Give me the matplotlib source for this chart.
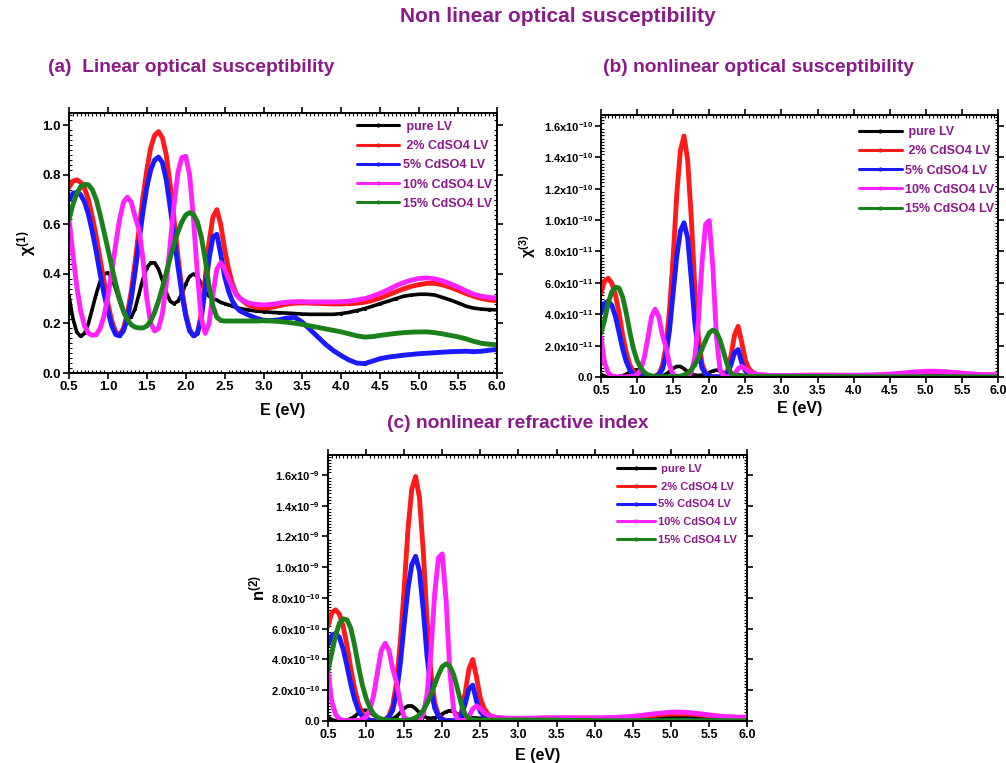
import numpy as np
import matplotlib
matplotlib.use('Agg')
import matplotlib.pyplot as plt
from matplotlib.ticker import MultipleLocator, AutoMinorLocator, FuncFormatter

plt.rcParams['font.family'] = ['Liberation Sans', 'DejaVu Sans']
plt.rcParams['mathtext.fontset'] = 'custom'
plt.rcParams['mathtext.bf'] = 'Liberation Sans:bold'
plt.rcParams['mathtext.rm'] = 'Liberation Sans:bold'
plt.rcParams['mathtext.it'] = 'Liberation Sans:bold:italic'
plt.rcParams['mathtext.default'] = 'bf'

# ---------------- data ----------------
E = [0.50, 0.55, 0.60, 0.65, 0.70, 0.75, 0.80, 0.85, 0.90, 0.95,
     1.00, 1.05, 1.10, 1.15, 1.20, 1.25, 1.30, 1.35, 1.40, 1.45,
     1.50, 1.55, 1.60, 1.65, 1.70, 1.75, 1.80, 1.85, 1.90, 1.95,
     2.00, 2.05, 2.10, 2.15, 2.20, 2.25, 2.30, 2.35, 2.40, 2.45,
     2.50, 2.55, 2.60, 2.65, 2.70,
     2.8, 2.9, 3.0, 3.1, 3.2, 3.3, 3.4, 3.5, 3.6, 3.7, 3.8, 3.9,
     4.0, 4.1, 4.2, 4.3, 4.4, 4.5, 4.6, 4.7, 4.8, 4.9, 5.0, 5.1,
     5.2, 5.3, 5.4, 5.5, 5.6, 5.7, 5.8, 5.9, 6.0]

labels = [' pure LV', ' 2% CdSO4 LV', '5% CdSO4 LV', '10% CdSO4 LV', '15% CdSO4 LV']
colors = ['#000000', '#ff1a1a', '#1a1aff', '#ff22ff', '#1a801a']

# (a) linear susceptibility chi(1)
chi1_pure = [0.31, 0.22, 0.165, 0.148, 0.16, 0.20, 0.26, 0.32, 0.37, 0.40,
             0.405, 0.385, 0.34, 0.29, 0.245, 0.22, 0.225, 0.26, 0.32, 0.38,
             0.425, 0.445, 0.445, 0.42, 0.375, 0.325, 0.29, 0.28, 0.29, 0.32,
             0.36, 0.39, 0.40, 0.39, 0.36, 0.33, 0.31, 0.30, 0.295, 0.285,
             0.28, 0.275, 0.27, 0.265, 0.26,
             0.255, 0.25, 0.248, 0.245, 0.243, 0.242, 0.24, 0.238, 0.237, 0.237, 0.237, 0.237,
             0.24, 0.245, 0.252, 0.26, 0.27, 0.28, 0.29, 0.30, 0.31, 0.315, 0.318, 0.318,
             0.315, 0.305, 0.295, 0.283, 0.27, 0.262, 0.258, 0.256, 0.255]
chi1_2 = [0.75, 0.775, 0.78, 0.77, 0.745, 0.70, 0.63, 0.55, 0.46, 0.37,
          0.28, 0.21, 0.165, 0.155, 0.18, 0.24, 0.33, 0.45, 0.58, 0.71,
          0.82, 0.91, 0.96, 0.975, 0.95, 0.88, 0.76, 0.62, 0.47, 0.34,
          0.24, 0.175, 0.15, 0.16, 0.24, 0.38, 0.53, 0.63, 0.66, 0.60,
          0.50, 0.42, 0.36, 0.32, 0.30,
          0.275, 0.265, 0.262, 0.265, 0.272, 0.278, 0.282, 0.283, 0.282, 0.281, 0.28, 0.279,
          0.279, 0.28, 0.282, 0.286, 0.293, 0.303, 0.315, 0.328, 0.34, 0.35, 0.357, 0.362,
          0.362, 0.356, 0.346, 0.334, 0.321, 0.31, 0.301, 0.295, 0.292]
chi1_5 = [0.70, 0.725, 0.73, 0.72, 0.69, 0.64, 0.57, 0.49, 0.40, 0.32,
          0.25, 0.19, 0.155, 0.15, 0.17, 0.22, 0.30, 0.41, 0.53, 0.65,
          0.75, 0.82, 0.86, 0.872, 0.85, 0.78, 0.67, 0.55, 0.43, 0.32,
          0.23, 0.17, 0.15, 0.16, 0.22, 0.34, 0.46, 0.55, 0.56, 0.48,
          0.39, 0.33, 0.29, 0.265, 0.25,
          0.235, 0.222, 0.213, 0.212, 0.215, 0.222, 0.225, 0.205, 0.175, 0.145, 0.115, 0.09,
          0.07, 0.052, 0.04, 0.038, 0.048, 0.058, 0.064, 0.068, 0.072, 0.075, 0.078, 0.08,
          0.082, 0.084, 0.086, 0.087, 0.088, 0.086, 0.088, 0.092, 0.095]
chi1_10 = [0.62, 0.48, 0.35, 0.25, 0.19, 0.16, 0.152, 0.155, 0.18, 0.23,
           0.31, 0.41, 0.52, 0.62, 0.69, 0.71, 0.69, 0.63, 0.58, 0.46,
           0.30, 0.20, 0.17, 0.18, 0.24, 0.36, 0.52, 0.68, 0.81, 0.87,
           0.875, 0.80, 0.62, 0.40, 0.22, 0.16, 0.20, 0.32, 0.42, 0.445,
           0.42, 0.38, 0.345, 0.315, 0.30,
           0.283, 0.277, 0.275, 0.277, 0.282, 0.286, 0.288, 0.288, 0.287, 0.287, 0.287, 0.287,
           0.288, 0.29, 0.295, 0.30, 0.31, 0.322, 0.336, 0.352, 0.365, 0.375, 0.382, 0.384,
           0.38, 0.372, 0.36, 0.347, 0.332, 0.318, 0.31, 0.305, 0.303]
chi1_15 = [0.62, 0.68, 0.725, 0.752, 0.762, 0.76, 0.74, 0.70, 0.64, 0.57,
           0.50, 0.43, 0.36, 0.30, 0.25, 0.215, 0.195, 0.185, 0.182, 0.182,
           0.19, 0.21, 0.245, 0.29, 0.345, 0.405, 0.465, 0.52, 0.57, 0.61,
           0.638, 0.648, 0.64, 0.61, 0.55, 0.46, 0.35, 0.27, 0.225, 0.212,
           0.21, 0.21, 0.21, 0.21, 0.21,
           0.21, 0.21, 0.211, 0.21, 0.208, 0.205, 0.201, 0.196, 0.19, 0.184, 0.178, 0.172,
           0.166, 0.158, 0.15, 0.145, 0.147, 0.152, 0.156, 0.16, 0.163, 0.165, 0.166, 0.166,
           0.163, 0.158, 0.152, 0.146, 0.138, 0.128, 0.12, 0.116, 0.114]

# (b) third-order susceptibility chi(3), in units of 1e-11 esu
chi3_pure = [0.16, 0.04, 0.01, 0.01, 0.01, 0.03, 0.08, 0.18, 0.32, 0.44,
             0.46, 0.37, 0.23, 0.12, 0.06, 0.04, 0.04, 0.08, 0.18, 0.35,
             0.55, 0.67, 0.67, 0.53, 0.34, 0.19, 0.12, 0.10, 0.12, 0.18,
             0.29, 0.39, 0.44, 0.39, 0.29, 0.20, 0.16, 0.14, 0.13, 0.11,
             0.10, 0.10, 0.09, 0.08, 0.08,
             0.07, 0.07, 0.07, 0.06, 0.06, 0.06, 0.06, 0.06, 0.05, 0.05, 0.05, 0.05,
             0.06, 0.06, 0.07, 0.08, 0.09, 0.10, 0.12, 0.13, 0.15, 0.16, 0.17, 0.17,
             0.16, 0.15, 0.13, 0.11, 0.10, 0.08, 0.08, 0.07, 0.07]
chi3_2 = [5.38, 6.13, 6.29, 5.98, 5.24, 4.08, 2.68, 1.56, 0.76, 0.32,
          0.10, 0.03, 0.01, 0.01, 0.02, 0.06, 0.20, 0.70, 1.92, 4.32,
          7.69, 11.66, 14.44, 15.36, 13.85, 10.2, 5.67, 2.51, 0.83, 0.23,
          0.06, 0.02, 0.01, 0.01, 0.06, 0.35, 1.34, 2.68, 3.23, 2.20,
          1.06, 0.53, 0.29, 0.18, 0.14,
          0.10, 0.08, 0.08, 0.08, 0.09, 0.10, 0.11, 0.11, 0.11, 0.11, 0.10, 0.10,
          0.10, 0.10, 0.11, 0.11, 0.13, 0.14, 0.17, 0.20, 0.23, 0.26, 0.28, 0.29,
          0.29, 0.27, 0.24, 0.21, 0.18, 0.16, 0.14, 0.13, 0.12]
chi3_5 = [4.08, 4.70, 4.83, 4.57, 3.85, 2.85, 1.79, 0.98, 0.44, 0.18,
          0.07, 0.02, 0.01, 0.01, 0.01, 0.04, 0.14, 0.48, 1.34, 3.03,
          5.38, 7.69, 9.30, 9.83, 8.87, 6.29, 3.43, 1.56, 0.58, 0.18,
          0.05, 0.01, 0.01, 0.01, 0.04, 0.23, 0.76, 1.56, 1.75, 0.90,
          0.39, 0.20, 0.12, 0.08, 0.07,
          0.05, 0.04, 0.035, 0.035, 0.036, 0.04, 0.044, 0.03, 0.016, 0.008, 0.003, 0.001,
          0.0, 0.0, 0.0, 0.0, 0.0, 0.0, 0.0, 0.0, 0.0, 0.0, 0.0, 0.0,
          0.0, 0.0, 0.0, 0.0, 0.0, 0.0, 0.0, 0.0, 0.0]
chi3_10 = [2.51, 0.90, 0.26, 0.07, 0.02, 0.01, 0.01, 0.01, 0.02, 0.05,
           0.16, 0.48, 1.24, 2.51, 3.85, 4.32, 3.85, 2.68, 1.92, 0.76,
           0.14, 0.03, 0.01, 0.02, 0.06, 0.29, 1.24, 3.63, 7.32, 9.74,
           9.97, 6.96, 2.51, 0.44, 0.04, 0.01, 0.03, 0.18, 0.53, 0.67,
           0.53, 0.35, 0.24, 0.17, 0.14,
           0.109, 0.10, 0.097, 0.10, 0.107, 0.114, 0.117, 0.117, 0.117, 0.117, 0.117, 0.117,
           0.117, 0.12, 0.129, 0.138, 0.157, 0.183, 0.217, 0.26, 0.30, 0.336, 0.362, 0.37,
           0.354, 0.326, 0.286, 0.246, 0.207, 0.174, 0.157, 0.147, 0.143]
chi3_15 = [2.8, 3.63, 4.70, 5.44, 5.73, 5.67, 5.10, 4.08, 2.85, 1.79,
           1.06, 0.58, 0.29, 0.14, 0.07, 0.04, 0.02, 0.02, 0.02, 0.02,
           0.02, 0.03, 0.06, 0.12, 0.24, 0.46, 0.79, 1.24, 1.79, 2.35,
           2.82, 2.99, 2.85, 2.35, 1.56, 0.76, 0.26, 0.09, 0.04, 0.03,
           0.03, 0.03, 0.03, 0.03, 0.03,
           0.03, 0.03, 0.03, 0.03, 0.03, 0.03, 0.03, 0.03, 0.02, 0.02, 0.02, 0.02,
           0.01, 0.01, 0.01, 0.01, 0.01, 0.01, 0.01, 0.01, 0.01, 0.01, 0.01, 0.01,
           0.01, 0.01, 0.01, 0.01, 0.01, 0.01, 0.01, 0.0, 0.0]

# (c) nonlinear refractive index n(2), in units of 1e-10 esu
n2_pure = [0.27, 0.08, 0.02, 0.02, 0.02, 0.06, 0.15, 0.30, 0.51, 0.68,
           0.70, 0.58, 0.38, 0.21, 0.11, 0.08, 0.08, 0.15, 0.30, 0.55,
           0.83, 0.98, 0.98, 0.80, 0.54, 0.32, 0.21, 0.18, 0.21, 0.30,
           0.46, 0.60, 0.68, 0.60, 0.46, 0.33, 0.27, 0.24, 0.22, 0.19,
           0.18, 0.18, 0.16, 0.14, 0.14,
           0.13, 0.13, 0.13, 0.11, 0.11, 0.11, 0.11, 0.11, 0.09, 0.09, 0.09, 0.09,
           0.11, 0.11, 0.13, 0.14, 0.16, 0.17, 0.20, 0.22, 0.25, 0.27, 0.29, 0.29,
           0.27, 0.25, 0.22, 0.19, 0.18, 0.15, 0.15, 0.13, 0.13]
n2_2 = [6.2, 7.05, 7.23, 6.94, 6.13, 4.90, 3.38, 2.09, 1.10, 0.51,
        0.18, 0.06, 0.02, 0.02, 0.04, 0.11, 0.33, 1.02, 2.52, 5.18,
        8.61, 12.48, 15.09, 15.90, 14.54, 11.07, 6.58, 3.19, 1.20, 0.38,
        0.11, 0.04, 0.02, 0.02, 0.11, 0.55, 1.82, 3.38, 4.00, 2.84,
        1.48, 0.80, 0.46, 0.30, 0.24,
        0.18, 0.14, 0.14, 0.14, 0.16, 0.18, 0.19, 0.19, 0.19, 0.19, 0.18, 0.18,
        0.18, 0.18, 0.19, 0.19, 0.23, 0.24, 0.28, 0.33, 0.37, 0.42, 0.45, 0.46,
        0.46, 0.43, 0.39, 0.35, 0.30, 0.27, 0.24, 0.22, 0.21]
n2_5 = [4.95, 5.57, 5.70, 5.44, 4.66, 3.56, 2.36, 1.38, 0.68, 0.30,
        0.13, 0.04, 0.02, 0.02, 0.02, 0.08, 0.24, 0.73, 1.82, 3.77,
        6.29, 8.61, 10.18, 10.71, 9.76, 7.23, 4.22, 2.09, 0.86, 0.30,
        0.09, 0.02, 0.02, 0.02, 0.08, 0.38, 1.10, 2.09, 2.33, 1.28,
        0.60, 0.33, 0.21, 0.15, 0.13,
        0.10, 0.08, 0.07, 0.07, 0.07, 0.08, 0.09, 0.06, 0.03, 0.02, 0.01, 0.0,
        0.0, 0.0, 0.0, 0.0, 0.0, 0.0, 0.0, 0.0, 0.0, 0.0, 0.0, 0.0,
        0.0, 0.0, 0.0, 0.0, 0.0, 0.0, 0.0, 0.0, 0.0]
n2_10 = [3.19, 1.28, 0.42, 0.13, 0.04, 0.02, 0.02, 0.02, 0.04, 0.10,
         0.27, 0.73, 1.70, 3.19, 4.60, 5.05, 4.60, 3.38, 2.52, 1.10,
         0.24, 0.06, 0.02, 0.04, 0.11, 0.46, 1.70, 4.43, 8.27, 10.62,
         10.87, 7.86, 3.19, 0.68, 0.08, 0.02, 0.06, 0.30, 0.80, 0.98,
         0.80, 0.55, 0.39, 0.29, 0.24,
         0.19, 0.18, 0.17, 0.18, 0.19, 0.20, 0.21, 0.21, 0.21, 0.21, 0.21, 0.21,
         0.21, 0.21, 0.23, 0.24, 0.27, 0.31, 0.36, 0.42, 0.48, 0.53, 0.57, 0.58,
         0.56, 0.52, 0.46, 0.40, 0.34, 0.29, 0.27, 0.25, 0.25]
n2_15 = [3.3, 4.43, 5.57, 6.36, 6.65, 6.58, 6.02, 4.90, 3.56, 2.36,
         1.48, 0.86, 0.46, 0.24, 0.13, 0.08, 0.04, 0.04, 0.04, 0.04,
         0.04, 0.06, 0.11, 0.21, 0.39, 0.70, 1.14, 1.70, 2.36, 3.01,
         3.54, 3.72, 3.56, 3.01, 2.09, 1.10, 0.42, 0.16, 0.08, 0.06,
         0.06, 0.06, 0.06, 0.06, 0.06,
         0.06, 0.06, 0.06, 0.06, 0.06, 0.06, 0.06, 0.05, 0.04, 0.04, 0.04, 0.03,
         0.03, 0.02, 0.02, 0.02, 0.02, 0.02, 0.02, 0.02, 0.02, 0.02, 0.02, 0.02,
         0.02, 0.02, 0.02, 0.02, 0.02, 0.02, 0.02, 0.01, 0.01]

CHI3_UNIT = 1e-11
N2_UNIT = 1e-10

# ---------------- figure ----------------
W, H = 1006, 763
fig = plt.figure(figsize=(W / 100, H / 100), dpi=100)
PURPLE = '#8a1a88'


def px_axes(left, top, right, bottom):
    return fig.add_axes([left / W, 1 - bottom / H, (right - left) / W, (bottom - top) / H])


def sci_fmt(v, pos):
    if abs(v) < 1e-30:
        return '0.0'
    m, e = f'{v:.1e}'.split('e')
    return f'{m}x10$^{{{int(e)}}}$'


def style(ax, ylim, ymaj, yfmt, xtick_fs, ytick_fs, xlabel_pad):
    ax.set_xlim(0.5, 6.0)
    ax.set_ylim(*ylim)
    ax.xaxis.set_major_locator(MultipleLocator(0.5))
    ax.xaxis.set_minor_locator(AutoMinorLocator(10))
    ax.yaxis.set_major_locator(MultipleLocator(ymaj))
    ax.yaxis.set_minor_locator(AutoMinorLocator(10))
    ax.xaxis.set_major_formatter(FuncFormatter(lambda v, p: f'{v:.1f}'))
    ax.yaxis.set_major_formatter(FuncFormatter(yfmt))
    ax.tick_params(which='major', direction='out', length=4, width=1.2,
                   top=True, right=True, pad=2)
    ax.tick_params(axis='x', which='major', labelsize=xtick_fs)
    ax.tick_params(axis='y', which='major', labelsize=ytick_fs)
    ax.tick_params(which='minor', direction='in', length=2.5, width=0.8,
                   top=True, right=True)
    for lab in ax.get_xticklabels() + ax.get_yticklabels():
        lab.set_fontweight('bold')
    for s in ax.spines.values():
        s.set_linewidth(1.4)
    ax.set_xlabel('E (eV)', fontsize=11.5, fontweight='bold', labelpad=xlabel_pad)


def draw(ax, series, scale, lw):
    for ys, c, lab, w in zip(series, colors, labels, lw):
        ax.plot(E, np.asarray(ys) * scale, color=c, lw=w, label=lab,
                marker='.', markersize=2.5, solid_capstyle='round')


def legend(ax, x, y, fs, spacing):
    leg = ax.legend(loc='upper left', bbox_to_anchor=(x, y), frameon=False,
                    fontsize=fs, handlelength=3.4, handletextpad=0.3,
                    labelspacing=spacing, borderpad=0, borderaxespad=0)
    for t in leg.get_texts():
        t.set_color(PURPLE)
        t.set_fontweight('bold')
    for h in leg.get_lines():
        h.set_linewidth(2.2)
        h.set_markersize(4)
    return leg


lw = [2.6, 3.5, 3.5, 3.5, 3.5]

# (a)
axa = px_axes(69, 113, 497, 373)
draw(axa, [chi1_pure, chi1_2, chi1_5, chi1_10, chi1_15], 1.0, lw)
style(axa, (0, 1.05), 0.2, lambda v, p: f'{v:.1f}', 9.5, 9.5, 7)
axa.set_ylabel(r'$\chi^{(1)}$', fontsize=12, labelpad=3)
legend(axa, 0.672, 0.97, 9, 0.58)

# (b)
axb = px_axes(601, 115, 998, 377)
draw(axb, [chi3_pure, chi3_2, chi3_5, chi3_10, chi3_15], CHI3_UNIT, lw)
style(axb, (0, 1.67e-10), 2e-11, sci_fmt, 9, 8, 3)
axb.set_ylabel(r'$\chi^{(3)}$', fontsize=11, labelpad=4)
legend(axb, 0.65, 0.958, 9, 0.58)

# (c)
axc = px_axes(328, 455, 747, 721)
draw(axc, [n2_pure, n2_2, n2_5, n2_10, n2_15], N2_UNIT, lw)
style(axc, (0, 1.73e-9), 2e-10, sci_fmt, 9, 8, 5)
axc.set_ylabel(r'$n^{(2)}$', fontsize=12, labelpad=2)
legend(axc, 0.69, 0.965, 8, 0.68)

# titles
tfont = dict(color=PURPLE, fontweight='bold')
fig.text(558 / W, 1 - 17 / H, 'Non linear optical susceptibility', ha='center', va='center',
         fontsize=15, **tfont)
fig.text(48 / W, 1 - 67 / H, '(a)  Linear optical susceptibility', ha='left', va='center',
         fontsize=13.8, **tfont)
fig.text(603 / W, 1 - 68 / H, '(b) nonlinear optical susceptibility', ha='left', va='center',
         fontsize=13.8, **tfont)
fig.text(518 / W, 1 - 424 / H, '(c) nonlinear refractive index', ha='center', va='center',
         fontsize=13.8, **tfont)

fig.savefig('out.png', dpi=100, facecolor='white')
